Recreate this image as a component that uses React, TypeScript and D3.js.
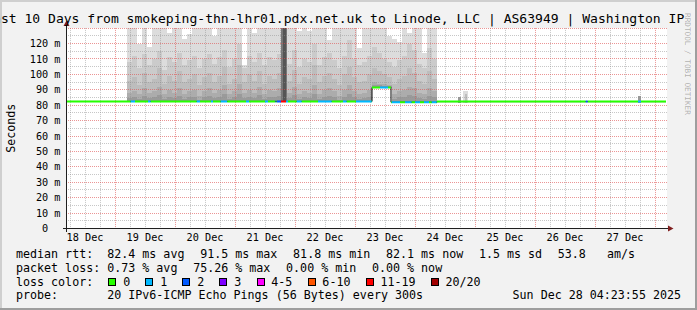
import React from 'react';
import * as d3 from 'd3';

const WIDTH = 697;
const HEIGHT = 310;

// hours counted from 2025-12-18 00:00 UTC
const BASE_MS = Date.UTC(2025, 11, 18);
const rangeStartHour = 4.3986; // Thu Dec 18 04:23:55
const rangeEndHour = 244.3986; // Sun Dec 28 04:23:55

const titleText =
  'Last 10 Days from smokeping-thn-lhr01.pdx.net.uk to Linode, LLC | AS63949 | Washington IP';
const yAxisTitle = 'Seconds';
const watermark = 'RRDTOOL / TOBI OETIKER';

const yTickValues = [0, 10, 20, 30, 40, 50, 60, 70, 80, 90, 100, 110, 120];
const yTickLabels = ['0  ', '10 m', '20 m', '30 m', '40 m', '50 m', '60 m', '70 m', '80 m', '90 m', '100 m', '110 m', '120 m'];

// smoke: 2-hour bins starting 19 Dec 04:48 (ms values of ping distribution bands)
const smokeStartHour = 28.8;
const smokeStepHours = 2;
const smokeMax = [135,135,120,135,118,135,135,135,127,135, 135,123,126,135,135,135,135,125,135,135, 135,135,135,106,135,127,135,135,135,135, 135,135,135,135,128,135,128,135,135,135, 122,135,135,135,135,135,117,135,135,135, 135,135,125,123,121,135,127,135,135,114, 135,135];
const smokeP2 = [108,112,104,113,106,110,115,103,111,108, 114,106,109,112,104,110,113,107,111,116, 105,110,120,104,112,108,114,106,111,109, 113,107,107,116,105,110,108,120,106,111, 114,109,104,112,122,110,106,108,112,118, 114,110,108,105,109,112,120,116,107,104, 117,110];
const smokeP3 = [96,98,93,101,95,97,104,94,99,96, 102,95,97,100,93,98,101,95,99,105, 94,97,106,95,100,96,102,94,99,97, 101,96,96,103,94,98,97,106,95,99, 101,97,93,100,105,98,95,96,100,104, 102,100,98,94,97,99,104,101,96,94, 102,97];
const smokeP4 = [88,89,87,91,88,89,92,87,90,88, 91,87,89,90,86,89,91,88,90,93, 87,89,94,88,90,88,92,87,90,89, 91,88,88,92,87,89,88,93,87,90, 91,89,86,90,93,89,87,88,90,95, 94,94,93,87,89,90,92,91,88,87, 91,89];
const smokeP5 = [84.5,85,84,86,84.5,85,86.5,84,85.5,84.5, 86,84,85,85.5,83.5,85,86,84.5,85.5,87, 84,85,87.5,84.5,85.5,84.5,86.5,84,85.5,85, 86,84.5,84.5,86.5,84,85,84.5,87,84,85.5, 86,85,83.5,85.5,87,85,84,84.5,85.5,93, 93,92.5,92.5,84,85,85.5,86.5,86,84.5,84, 86,85];

// isolated smoke after the busy period: [startHour, endHour, top ms, band]
const extraSmoke: [number, number, number, number][] = [
  [161.2, 162.4, 85.0, 4],
  [163.2, 165.2, 89.0, 0],
  [164.0, 164.8, 87.5, 2],
  [233.2, 234.4, 85.8, 4],
];

// heavy loss period: [startHour, endHour, lost pings]
const outages: [number, number, number][] = [
  [90.4, 92.8, 11],
  [91.0, 92.2, 15],
];

// median rtt: [startHour, endHour, ms]
const medianSegs: [number, number, number][] = [
  [4.3986, 126.8, 82.4],
  [126.8, 134.4, 91.5],
  [134.4, 152.8, 81.9],
  [152.8, 244.3986, 82.3],
];

// packet loss on median line: [startHour, endHour, lost pings]
const lossEvents: [number, number, number][] = [
  [30.3, 32.0, 1], [37.2, 38.3, 1], [56.7, 58.0, 1], [62.4, 63.2, 1],
  [66.3, 68.9, 1], [76.4, 77.6, 1], [84.0, 85.2, 1], [88.2, 88.6, 2],
  [88.8, 90.4, 2], [90.4, 92.4, 15], [92.4, 93.2, 1], [96.7, 98.7, 1],
  [105.2, 110.7, 1], [115.2, 116.7, 1], [120.4, 126.7, 1], [130.0, 133.2, 1],
  [134.7, 138.0, 1], [140.0, 142.7, 1], [144.0, 146.0, 1], [147.6, 149.6, 1],
  [150.7, 152.7, 1], [212.3, 213.1, 2], [233.2, 234.4, 1],
];

const lossLabels = ['0', '1', '2', '3', '4-5', '6-10', '11-19', '20/20'];
const lossUpper = [0, 1, 2, 3, 5, 10, 19, 20];
const lossColors = ['#26ff00', '#00b8ff', '#0059ff', '#7e00ff', '#ff00ff', '#ff5500', '#ff0000', '#a10000'];

const rttStats = ['median rtt:  82.4 ms avg', '91.5 ms max', '81.8 ms min', '82.1 ms now', '1.5 ms sd', '53.8   am/s'];
const lossStats = ['packet loss: 0.73 % avg', '75.26 % max', '0.00 % min', '0.00 % now'];
const lossColorTitle = 'loss color:';
const probeText = 'probe:       20 IPv6-ICMP Echo Pings (56 Bytes) every 300s';
const stampText = 'Sun Dec 28 04:23:55 2025';

const smokeFills = ['#dcdcdc', '#cbcbcb', '#bdbdbd', '#acacac', '#9a9a9a'];
const MONO = "'DejaVu Sans Mono', monospace";

const toDate = (h: number) => new Date(BASE_MS + h * 3600000);
const snap = (v: number) => Math.floor(v) + 0.5;
const keepSpaces = (s: string) => s.replace(/ /g, '\u00a0');

function medianAt(h: number) {
  for (const [s, e, v] of medianSegs) if (h >= s && h < e) return v;
  return medianSegs[medianSegs.length - 1][2];
}
function lossAt(h: number) {
  for (const [s, e, l] of lossEvents) if (h >= s && h < e) return l;
  return 0;
}
function lossColor(l: number) {
  const i = lossUpper.findIndex((u) => l <= u);
  return lossColors[i < 0 ? lossColors.length - 1 : i];
}

export default function App() {
  const x = d3.scaleUtc().domain([toDate(rangeStartHour), toDate(rangeEndHour)]).range([66, 666]);
  const y = d3.scaleLinear().domain([0, 120]).range([228.5, 43.5]);
  const xh = (h: number) => x(toDate(h));
  const plotLeft = 66;
  const plotRight = 667;
  const plotTop = y(130);
  const plotBottom = y(0);

  const t0 = toDate(rangeStartHour);
  const t1 = toDate(rangeEndHour);
  const majorX = d3.utcDay.range(t0, t1);
  const minorX = d3.utcHour.every(6)!.range(t0, t1).filter((d) => d.getUTCHours() !== 0);
  const labelX = d3.utcHour.range(t0, t1).filter((d) => d.getUTCHours() === 12);
  const fmt = d3.utcFormat('%d %b');
  const majorY = d3.range(10, 131, 10);
  const minorY = d3.range(5, 130, 10);

  const smokeLayers = [smokeMax, smokeP2, smokeP3, smokeP4, smokeP5];

  // median line pieces
  const bps = Array.from(
    new Set([
      ...medianSegs.flatMap(([s, e]) => [s, e]),
      ...lossEvents.flatMap(([s, e]) => [s, e]),
    ])
  ).sort((a, b) => a - b);
  const pieces: { a: number; b: number; v: number; c: string }[] = [];
  for (let i = 0; i < bps.length - 1; i++) {
    const a = bps[i], b = bps[i + 1];
    const m = (a + b) / 2;
    pieces.push({ a, b, v: medianAt(m), c: lossColor(lossAt(m)) });
  }
  const stepPts: [number, number][] = medianSegs.map(([s, , v]) => [s, v]);
  stepPts.push([medianSegs[medianSegs.length - 1][1], medianSegs[medianSegs.length - 1][2]]);
  const stepPath = d3
    .line<[number, number]>()
    .x((d) => xh(d[0]))
    .y((d) => y(d[1]))
    .curve(d3.curveStepAfter)(stepPts) as string;

  // legend layout
  const CW = 7.02;
  const GAP = 15.7;
  const layoutItems = (items: string[]) => {
    let cur = 16;
    return items.map((s) => {
      const pos = cur;
      cur += s.length * CW + GAP;
      return { s, pos };
    });
  };
  const rttItems = layoutItems(rttStats);
  const lossItems = layoutItems(lossStats);
  const colorItems: { box: number; tx: number; label: string; color: string }[] = [];
  {
    let cur = 16 + lossColorTitle.length * CW + GAP;
    lossLabels.forEach((label, i) => {
      const tx = cur + 14.3;
      colorItems.push({ box: cur, tx, label, color: lossColors[i] });
      cur = tx + label.length * CW + GAP;
    });
  }
  const legendY = [258.3, 272, 285.7, 299.3];
  const legendFont = 11.66;

  return (
    <svg
      width={WIDTH}
      height={HEIGHT}
      viewBox={`0 0 ${WIDTH} ${HEIGHT}`}
      style={{ position: 'absolute', left: 0, top: 0, display: 'block' }}
    >
      <defs>
        <clipPath id="plotclip">
          <rect x={plotLeft} y={plotTop} width={plotRight - plotLeft} height={plotBottom - plotTop} />
        </clipPath>
      </defs>
      <rect x={0} y={0} width={WIDTH} height={HEIGHT} fill="#f2f2f2" />
      <rect x={0} y={0} width={WIDTH} height={2} fill="#cfcfcf" />
      <rect x={0} y={0} width={2} height={HEIGHT} fill="#cfcfcf" />
      <rect x={WIDTH - 2} y={0} width={2} height={HEIGHT} fill="#9e9e9e" />
      <rect x={0} y={HEIGHT - 2} width={WIDTH} height={2} fill="#9e9e9e" />

      <rect x={plotLeft} y={plotTop} width={plotRight - plotLeft} height={plotBottom - plotTop} fill="#ffffff" />

      <g clipPath="url(#plotclip)" shapeRendering="crispEdges">
        {smokeMax.map((_, k) => {
          const h0 = smokeStartHour + k * smokeStepHours;
          const x0 = xh(h0);
          const x1 = xh(h0 + smokeStepHours);
          const base = medianAt(h0 + smokeStepHours / 2) - 0.6;
          return smokeLayers.map((arr, li) => (
            <rect
              key={`s${k}-${li}`}
              x={x0}
              width={x1 - x0}
              y={y(arr[k])}
              height={Math.max(0, y(base) - y(arr[k]))}
              fill={smokeFills[li]}
            />
          ));
        })}
        {extraSmoke.map(([s, e, top, band], i) => {
          const base = medianAt((s + e) / 2) - 0.6;
          return (
            <rect
              key={`e${i}`}
              x={xh(s)}
              width={xh(e) - xh(s)}
              y={y(top)}
              height={y(base) - y(top)}
              fill={smokeFills[band]}
            />
          );
        })}
        {outages.map(([s, e, lost], i) => {
          const base = medianAt((s + e) / 2) - 0.6;
          return (
            <rect
              key={`o${i}`}
              x={xh(s)}
              width={xh(e) - xh(s)}
              y={plotTop}
              height={y(base) - plotTop}
              fill={lost >= 15 ? '#555555' : '#777777'}
            />
          );
        })}
      </g>

      {/* grid */}
      <g clipPath="url(#plotclip)" strokeDasharray="1,1" fill="none">
        {minorY.map((v) => (
          <line key={`my${v}`} x1={plotLeft} x2={plotRight} y1={snap(y(v))} y2={snap(y(v))} stroke="#8f8f8f" strokeOpacity={0.5} />
        ))}
        {minorX.map((d, i) => (
          <line key={`mx${i}`} x1={snap(x(d))} x2={snap(x(d))} y1={plotTop} y2={plotBottom} stroke="#8f8f8f" strokeOpacity={0.5} />
        ))}
        {majorY.map((v) => (
          <line key={`My${v}`} x1={plotLeft} x2={plotRight} y1={snap(y(v))} y2={snap(y(v))} stroke="#de4f4f" strokeOpacity={0.6} />
        ))}
        {majorX.map((d, i) => (
          <line key={`Mx${i}`} x1={snap(x(d))} x2={snap(x(d))} y1={plotTop} y2={plotBottom} stroke="#de4f4f" strokeOpacity={0.6} />
        ))}
      </g>

      {/* median line */}
      <g clipPath="url(#plotclip)">
        <path d={stepPath} fill="none" stroke="#000" strokeWidth={1} />
        {pieces.map((p, i) => (
          <line key={`p${i}`} x1={xh(p.a)} x2={xh(p.b)} y1={y(p.v)} y2={y(p.v)} stroke={p.c} strokeWidth={2} />
        ))}
      </g>

      {/* axes */}
      <line x1={63} x2={670} y1={228.5} y2={228.5} stroke="#1f1f1f" strokeWidth={1} />
      <line x1={66.5} x2={66.5} y1={232} y2={23} stroke="#1f1f1f" strokeWidth={1} />
      <path d="M63.5,26 L69.5,26 L66.5,20.5 Z" fill="#801f1f" />
      <path d="M668,225.5 L668,231.5 L673.5,228.5 Z" fill="#801f1f" />

      {/* y tick labels */}
      {yTickValues.map((v, i) => (
        <text
          key={`yl${v}`}
          x={60.5}
          y={y(v) + 3.6}
          textAnchor="end"
          fontFamily={MONO}
          fontSize={10.2}
          fill="#000"
        >
          {keepSpaces(yTickLabels[i])}
        </text>
      ))}

      {/* x labels */}
      {labelX.map((d, i) => (
        <text key={`xl${i}`} x={x(d)} y={241} textAnchor="middle" fontFamily={MONO} fontSize={10.2} fill="#000">
          {fmt(d)}
        </text>
      ))}

      {/* title */}
      <text x={-14.8} y={23.3} fontFamily={MONO} fontSize={13.05} fill="#000">
        {titleText}
      </text>

      {/* y axis title */}
      <text
        transform="translate(15,128.3) rotate(-90)"
        textAnchor="middle"
        fontFamily={MONO}
        fontSize={11.66}
        fill="#000"
      >
        {yAxisTitle}
      </text>

      {/* watermark */}
      <text transform="translate(685,13) rotate(90)" fontFamily={MONO} fontSize={7.7} fill="#000" fillOpacity={0.3}>
        {watermark}
      </text>

      {/* legend */}
      <g fontFamily={MONO} fontSize={legendFont} fill="#000">
        {rttItems.map((it, i) => (
          <text key={`r${i}`} x={it.pos} y={legendY[0]}>{keepSpaces(it.s)}</text>
        ))}
        {lossItems.map((it, i) => (
          <text key={`l${i}`} x={it.pos} y={legendY[1]}>{keepSpaces(it.s)}</text>
        ))}
        <text x={16} y={legendY[2]}>{lossColorTitle}</text>
        {colorItems.map((it, i) => (
          <g key={`c${i}`}>
            <rect x={snap(it.box)} y={278.5} width={7} height={7} fill={it.color} stroke="#000" strokeWidth={1} />
            <text x={it.tx} y={legendY[2]}>{it.label}</text>
          </g>
        ))}
        <text x={16} y={legendY[3]}>{keepSpaces(probeText)}</text>
        <text x={681} y={legendY[3]} textAnchor="end">{stampText}</text>
      </g>
    </svg>
  );
}
